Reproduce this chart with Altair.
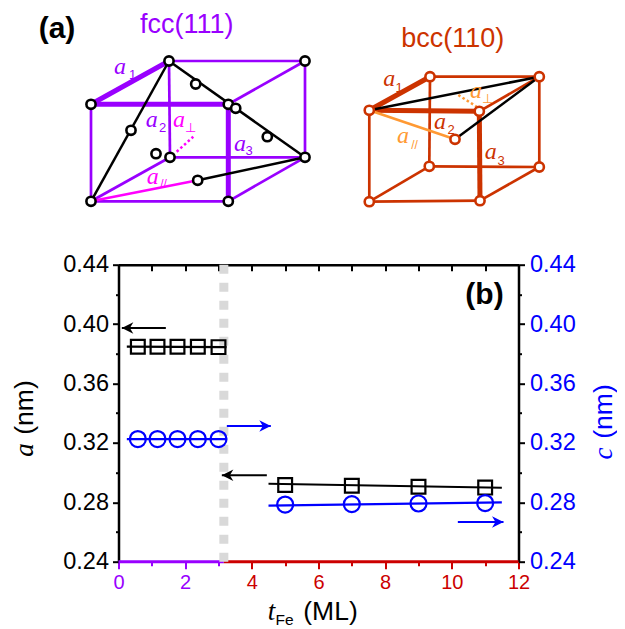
import altair as alt
import pandas as pd

# ---------- measured values, panel (b) ----------
fcc_x = [0.58, 1.17, 1.77, 2.38, 3.0]
fcc_a = [0.3848, 0.3848, 0.3848, 0.3848, 0.3845]
fcc_c = [0.3226, 0.3226, 0.3226, 0.3226, 0.3226]
bcc_x = [5, 7, 9, 11]
bcc_a = [0.2917, 0.2912, 0.2905, 0.2899]
bcc_c = [0.2785, 0.2788, 0.2792, 0.2795]
line_a_fcc_x = [0.25, 3.24]
line_a_fcc_y = [0.3848, 0.3845]
line_c_fcc_x = [0.25, 3.24]
line_c_fcc_y = [0.3226, 0.3226]
line_a_bcc_x = [4.5, 11.5]
line_a_bcc_y = [0.2925, 0.2898]
line_c_bcc_x = [4.5, 11.5]
line_c_bcc_y = [0.2777, 0.2799]
boundary_x = 3.16
# arrows: tail x, tip x, y, colour
arrow_tail = [1.42, 3.25, 4.45, 10.18]
arrow_tip = [0.10, 4.57, 3.10, 11.55]
arrow_y = [0.3974, 0.3314, 0.2982, 0.2667]
arrow_col = ["#000000", "#0000ff", "#000000", "#0000ff"]

# ---------- colours ----------
VIOLET = "#9900ff"
RED = "#cc0000"
BLUE = "#0000ff"
RUST = "#cc3300"
MAGENTA = "#ff00ff"
ORANGE = "#ff9933"
BLACK = "#000000"

# ---------- schematic vertices, panel (a) ----------
fcc_v = dict(A=(169, 61), B=(305, 61), C=(91, 104.3), D=(228.3, 104.3),
             E=(170, 157.3), F=(305, 157.3), G=(91, 201.3), H=(228.3, 201.3),
             p=(197.7, 180.3))
fcc_extra = [(131, 130.3), (195.7, 84), (235.7, 108.3), (267.3, 136.7), (156, 153.7), (197.7, 180.3)]
bcc_v = dict(A=(430, 76.7), B=(539.3, 76.7), C=(369.3, 110.3), D=(479.3, 111.3),
             E=(429.3, 166.3), F=(539.3, 167), G=(369.3, 201.7), H=(480, 200.7),
             p=(455, 139.3))
thin_edges = ["AB", "BF", "CG", "GH", "AE", "EF", "GE", "HF", "DB"]
thick_edges = ["AC", "CD", "DH"]
fcc_black = ["GA", "AF", "Fp"]
fcc_pink = ["Gp"]
bcc_black = ["CB", "Bp"]
bcc_orange = ["Cp"]
dotted_segments = [((176.7, 151.7), (193.3, 136.7), MAGENTA), ((458.3, 95), (476.7, 106.7), ORANGE)]

# labels: text, x, y(baseline), size, colour
roman = [
    ("fcc(111)", 186.7, 33, 27, VIOLET), ("bcc(110)", 452.7, 47, 27, RUST),
]
bold = [("(a)", 57, 38, 30, BLACK), ("(b)", 484.5, 304, 30, BLACK)]
serif_italic = [
    ("a", 120, 74, 24, VIOLET), ("a", 151.7, 127, 24, VIOLET), ("a", 179, 127, 24, MAGENTA),
    ("a", 240, 151, 24, VIOLET), ("a", 152.7, 184, 24, MAGENTA),
    ("a", 389.3, 86, 24, RUST), ("a", 440, 129, 24, RUST), ("a", 476, 98, 24, ORANGE),
    ("a", 403, 143, 24, ORANGE), ("a", 490.7, 159, 24, RUST),
]
subs = [
    ("1", 132.5, 79, 13, VIOLET), ("2", 162.5, 132, 13, VIOLET), ("\u22a5", 190.5, 132, 13, MAGENTA),
    ("3", 249, 155, 13, VIOLET), ("//", 163.5, 188, 12, MAGENTA),
    ("1", 399, 92, 13, RUST), ("2", 451, 134, 13, RUST), ("\u22a5", 487, 103, 13, ORANGE),
    ("//", 414.5, 149, 12, ORANGE), ("3", 501, 165, 13, RUST),
]
xtitle_it = [("t", 271.5, 620, 27, BLACK)]
xtitle_sub = [("Fe", 284.5, 625, 15.5, BLACK)]
xtitle_ro = [("(ML)", 330.5, 620, 26.5, BLACK)]
ytitle_it = [("a", 33, 450, 27, BLACK), ("c", 612, 453.5, 27, BLUE)]
ytitle_ro = [("(nm)", 33, 407.5, 26.5, BLACK), ("(nm)", 612, 411.5, 26.5, BLUE)]

# ---------- plot geometry ----------
W, H = 400, 297
xs = alt.Scale(domain=[0, 12], nice=False, zero=False)
ys = alt.Scale(domain=[0.24, 0.44], nice=False, zero=False)
# page-layout scale used by the schematic and free text
px = alt.Scale(domain=[118.5, 518.5], nice=False, zero=False)
py = alt.Scale(domain=[561.7, 264.7], nice=False, zero=False)


def X(f="x"):
    return alt.X(f"{f}:Q", scale=xs, axis=None)


def Y(f="y"):
    return alt.Y(f"{f}:Q", scale=ys, axis=None)


# ---------- data-space layers ----------
axis_df = pd.DataFrame({"x": [0, 12], "y": [0.24, 0.44]})


def axis_y(orient, values, size, labels, **kw):
    return alt.Chart(axis_df).mark_point(opacity=0).encode(
        x=X(),
        y=alt.Y("y:Q", scale=ys, title=None, axis=alt.Axis(
            orient=orient, values=values, tickSize=size, tickWidth=2, tickColor=BLACK,
            domain=labels, domainWidth=2.5, domainColor=BLACK, grid=False,
            labels=labels, format=".2f", labelFont="Liberation Sans", labelFontSize=23.5,
            labelOverlap=False, labelFlush=False, **kw)),
    )


def axis_x(values, size, labels, **kw):
    return alt.Chart(axis_df).mark_point(opacity=0).encode(
        y=Y(),
        x=alt.X("x:Q", scale=xs, title=None, axis=alt.Axis(
            orient="bottom", values=values, tickSize=size, tickWidth=2, grid=False,
            labels=labels, labelFont="Liberation Sans", labelFontSize=20,
            labelOverlap=False, labelFlush=False, format="d", **kw)),
    )


split_tick = {"condition": {"test": f"datum.value < {boundary_x}", "value": VIOLET}, "value": RED}
axes = [
    axis_y("left", [0.24, 0.28, 0.32, 0.36, 0.40, 0.44], 6, True, labelPadding=4, labelColor=BLACK),
    axis_y("left", [0.26, 0.30, 0.34, 0.38, 0.42], 3, False),
    axis_y("right", [0.24, 0.28, 0.32, 0.36, 0.40, 0.44], 6, True, labelPadding=5, labelColor=BLUE),
    axis_y("right", [0.26, 0.30, 0.34, 0.38, 0.42], 3, False),
    axis_x(list(range(0, 13)), 6, False, domain=True, domainWidth=2.5, domainColor=BLACK,
           tickColor=BLACK, offset=-H),
    axis_x([0, 2, 4, 6, 8, 10, 12], 7, True, domain=False, tickColor=split_tick,
           labelColor=split_tick, labelPadding=4),
    axis_x([1, 3, 5, 7, 9, 11], 4, False, domain=False, tickColor=split_tick),
]

base_df = pd.DataFrame({"x": [0, boundary_x], "x2": [boundary_x, 12], "y": [0.24, 0.24], "c": [VIOLET, RED]})
base_line = alt.Chart(base_df).mark_rule(strokeWidth=3).encode(
    x=X(), x2="x2:Q", y=Y(), color=alt.Color("c:N", scale=None))

boundary = alt.Chart(pd.DataFrame({"x": [boundary_x], "y": [0.24], "y2": [0.44]})).mark_rule(
    strokeWidth=9, color="#d9d9d9", strokeDash=[9, 9]).encode(x=X(), y=Y(), y2="y2:Q")


def line(xv, yv, col, w=2.2):
    return alt.Chart(pd.DataFrame({"x": xv, "y": yv})).mark_line(color=col, strokeWidth=w).encode(x=X(), y=Y())


def pts(xv, yv, col, shape, size, w=2.2):
    return alt.Chart(pd.DataFrame({"x": xv, "y": yv})).mark_point(
        shape=shape, size=size, color=col, filled=False, strokeWidth=w, opacity=1).encode(x=X(), y=Y())


arrow_df = pd.DataFrame({"x": arrow_tail, "x2": arrow_tip, "y": arrow_y, "c": arrow_col})
shafts = alt.Chart(arrow_df).mark_rule(strokeWidth=2).encode(
    x=X(), x2="x2:Q", y=Y(), color=alt.Color("c:N", scale=None))
HEAD_L = "M0,0 L1,-0.5 L0.7,0 L1,0.5 Z"
HEAD_R = "M0,0 L-1,-0.5 L-0.7,0 L-1,0.5 Z"


def heads(idx, shape):
    d = arrow_df.iloc[idx]
    return alt.Chart(d).mark_point(shape=shape, size=529, filled=True, opacity=1).encode(
        x=X("x2"), y=Y(), color=alt.Color("c:N", scale=None), stroke=alt.value(None))


# ---------- schematic layers ----------
def PX(f="x"):
    return alt.X(f"{f}:Q", scale=px, axis=None)


def PY(f="y"):
    return alt.Y(f"{f}:Q", scale=py, axis=None)


def segs(verts, names, col, w):
    return [dict(x=verts[n[0]][0], y=verts[n[0]][1], x2=verts[n[1]][0], y2=verts[n[1]][1], c=col, w=w) for n in names]


seg_rows = (
    segs(fcc_v, thin_edges, VIOLET, 2.7) + segs(fcc_v, thick_edges, VIOLET, 5)
    + segs(fcc_v, fcc_black, BLACK, 2.5) + segs(fcc_v, fcc_pink, MAGENTA, 2.5)
    + segs(bcc_v, thin_edges, RUST, 2.7) + segs(bcc_v, thick_edges, RUST, 5)
    + segs(bcc_v, bcc_black, BLACK, 2.5) + segs(bcc_v, bcc_orange, ORANGE, 2.5)
)
seg_layer = alt.Chart(pd.DataFrame(seg_rows)).mark_rule().encode(
    x=PX(), x2="x2:Q", y=PY(), y2="y2:Q", color=alt.Color("c:N", scale=None),
    strokeWidth=alt.StrokeWidth("w:Q", scale=None))

dot_df = pd.DataFrame([dict(x=a[0], y=a[1], x2=b[0], y2=b[1], c=c) for a, b, c in dotted_segments])
dot_layer = alt.Chart(dot_df).mark_rule(strokeWidth=2.5, strokeDash=[2.5, 2.5]).encode(
    x=PX(), x2="x2:Q", y=PY(), y2="y2:Q", color=alt.Color("c:N", scale=None))

fcc_nodes = [fcc_v[k] for k in "ABCDEFGH"] + fcc_extra
bcc_nodes = [bcc_v[k] for k in "ABCDEFGH"] + [bcc_v["p"]]
node_df_f = pd.DataFrame(fcc_nodes, columns=["x", "y"])
node_df_b = pd.DataFrame(bcc_nodes, columns=["x", "y"])


def nodes(df, col):
    return alt.Chart(df).mark_point(shape="circle", size=85, fill="white", stroke=col,
                                    strokeWidth=2.6, opacity=1, filled=True).encode(x=PX(), y=PY())


def texts(rows, font, style="normal", weight="normal", angle=0, align="center"):
    df = pd.DataFrame(rows, columns=["t", "x", "y", "s", "c"])
    return alt.Chart(df).mark_text(font=font, fontStyle=style, fontWeight=weight, angle=angle,
                                   baseline="alphabetic", align=align).encode(
        x=PX(), y=PY(), text="t:N", size=alt.Size("s:Q", scale=None), color=alt.Color("c:N", scale=None))


SANS = "Liberation Sans"
SERIF = "Liberation Serif"
layers = (
    axes
    + [base_line, boundary,
       line(line_a_fcc_x, line_a_fcc_y, BLACK), line(line_c_fcc_x, line_c_fcc_y, BLUE),
       line(line_a_bcc_x, line_a_bcc_y, BLACK), line(line_c_bcc_x, line_c_bcc_y, BLUE),
       pts(fcc_x, fcc_a, BLACK, "square", 190), pts(fcc_x, fcc_c, BLUE, "circle", 256),
       pts(bcc_x, bcc_a, BLACK, "square", 190), pts(bcc_x, bcc_c, BLUE, "circle", 256),
       shafts, heads([0, 2], HEAD_L), heads([1, 3], HEAD_R),
       seg_layer, dot_layer, nodes(node_df_f, BLACK), nodes(node_df_b, RUST),
       texts(roman, SANS), texts(bold, SANS, weight="bold"),
       texts(serif_italic, SERIF, style="italic"), texts(subs, SANS),
       texts(xtitle_it, SERIF, style="italic"), texts(xtitle_sub, SANS), texts(xtitle_ro, SANS),
       texts(ytitle_it, SERIF, style="italic", angle=270), texts(ytitle_ro, SANS, angle=270)]
)

chart = alt.layer(*layers).resolve_scale(x="independent", y="independent").properties(
    width=W, height=H,
    autosize=alt.AutoSizeParams(type="none"),
    padding={"left": 110.5, "top": 256.7, "right": 98.5, "bottom": 67.3},
    background="white",
).configure_view(stroke=None)

chart.save("out.html", embed_options={"renderer": "svg", "actions": False})
